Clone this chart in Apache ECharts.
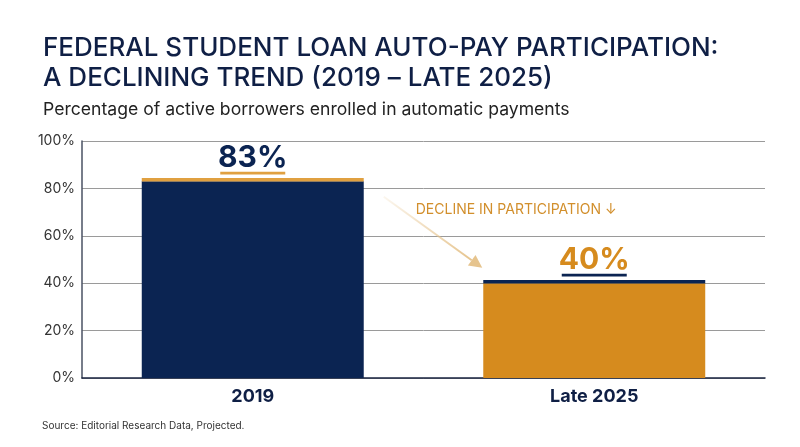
<!DOCTYPE html>
<html><head><meta charset="utf-8">
<script src="https://cdn.jsdelivr.net/npm/echarts@6/dist/echarts.min.js"></script>
<style>html,body{margin:0;padding:0;background:#fff}#c{width:800px;height:447px}</style>
</head><body><div id="c"></div>
<script>
const categories = ['2019', 'Late 2025'];
const values = [83, 40];
const valueLabels = ['83%', '40%'];
const yTicks = [0, 20, 40, 60, 80, 100];
const barColors = ['#0b2452', '#d68b1e'];
const capColors = ['#e0a040', '#0b2452'];
const annotationText = 'DECLINE IN PARTICIPATION ↓';

const NAVY = '#0b2452', GOLD = '#d68b1e';
const chart = echarts.init(document.getElementById('c'));

function capRender(params, api) {
  const i = params.dataIndex;
  const top = api.coord([i, api.value(1)]);
  const size = api.size([1, 0]);
  const w = size[0] * 0.65;
  const x = top[0] - w / 2;
  const children = [
    { type: 'rect', shape: { x: x, y: top[1] - 3.2, width: w, height: 3.4 }, style: { fill: capColors[i] } }
  ];
  children.push({ type: 'text', style: { text: valueLabels[i], x: top[0], y: top[1] - 8.5, align: 'center', verticalAlign: 'bottom',
      font: 'bold 30px Inter, "Open Sans", sans-serif', fill: barColors[i] } });
  children.push({ type: 'rect', shape: { x: top[0] - 32.5, y: top[1] - 9.5, width: 65, height: 2.8 }, style: { fill: i === 0 ? '#e0a040' : NAVY } });
  return { type: 'group', children: children };
}

function annRender(params, api) {
  if (params.dataIndex !== 0) return;
  const p0 = api.coord([0, 76.5]);
  const p1 = api.coord([1, 46.5]);
  const x0 = p0[0] + 131, y0 = p0[1];
  const x1 = p1[0] - 112, y1 = p1[1];
  const ang = Math.atan2(y1 - y0, x1 - x0);
  const L = 13, W = 6.5;
  const bx = x1 - L * Math.cos(ang), by = y1 - L * Math.sin(ang);
  const nx = -Math.sin(ang) * W, ny = Math.cos(ang) * W;
  const t = api.coord([0, 71.3]);
  return { type: 'group', children: [
    { type: 'line', shape: { x1: x0, y1: y0, x2: bx, y2: by },
      style: { lineWidth: 2, stroke: new echarts.graphic.LinearGradient(x0, y0, bx, by, [
        { offset: 0, color: 'rgba(230,196,142,0.15)' }, { offset: 1, color: 'rgba(230,196,142,1)' }], true) } },
    { type: 'polygon', shape: { points: [[x1, y1], [bx + nx, by + ny], [bx - nx, by - ny]] }, style: { fill: '#e6c48e' } },
    { type: 'text', style: { text: annotationText, x: t[0] + 163, y: t[1] + 0.5, verticalAlign: 'middle',
      font: '14px Inter, "Open Sans", sans-serif', fill: '#d28f2c' } }
  ]};
}

chart.setOption({
  animation: false,
  backgroundColor: '#fff',
  title: [
    { text: 'FEDERAL STUDENT LOAN AUTO-PAY PARTICIPATION:\nA DECLINING TREND (2019 – LATE 2025)', left: 38, top: 28,
      textStyle: { fontFamily: 'Inter', fontWeight: 500, fontSize: 26, lineHeight: 30, color: '#0f1f45' } },
    { text: 'Percentage of active borrowers enrolled in automatic payments', left: 38, top: 96,
      textStyle: { fontFamily: 'Inter', fontWeight: 400, fontSize: 17.6, color: '#222' } },
    { text: 'Source: Editorial Research Data, Projected.', left: 37, top: 416,
      textStyle: { fontFamily: 'Inter', fontWeight: 400, fontSize: 10, color: '#333' } }
  ],
  grid: { left: 82, right: 35, top: 141, bottom: 69 },
  xAxis: {
    type: 'category', data: categories,
    axisLine: { lineStyle: { color: '#1a2540', width: 1.5 } },
    axisTick: { show: false },
    axisLabel: { fontFamily: 'Inter', fontWeight: 'bold', fontSize: 18, color: '#0f1f45', margin: 10 }
  },
  yAxis: {
    type: 'value', min: 0, max: 100, interval: 20,
    axisLine: { show: true, lineStyle: { color: '#4a5263', width: 1.5 } },
    axisLabel: { formatter: v => yTicks.includes(v) ? v + '%' : '', fontFamily: 'Inter', fontSize: 14, color: '#333', margin: 7 },
    splitLine: { lineStyle: { color: '#9a9a9a', width: 1 } }
  },
  series: [
    { type: 'bar', barWidth: '65%', data: values.map((v, i) => ({ value: v, itemStyle: { color: barColors[i] } })), z: 2 },
    { type: 'custom', renderItem: capRender, data: values.map((v, i) => [i, v]), z: 3 },
    { type: 'custom', renderItem: annRender, data: values.map((v, i) => [i, v]), z: 4 }
  ]
});
</script></body></html>
